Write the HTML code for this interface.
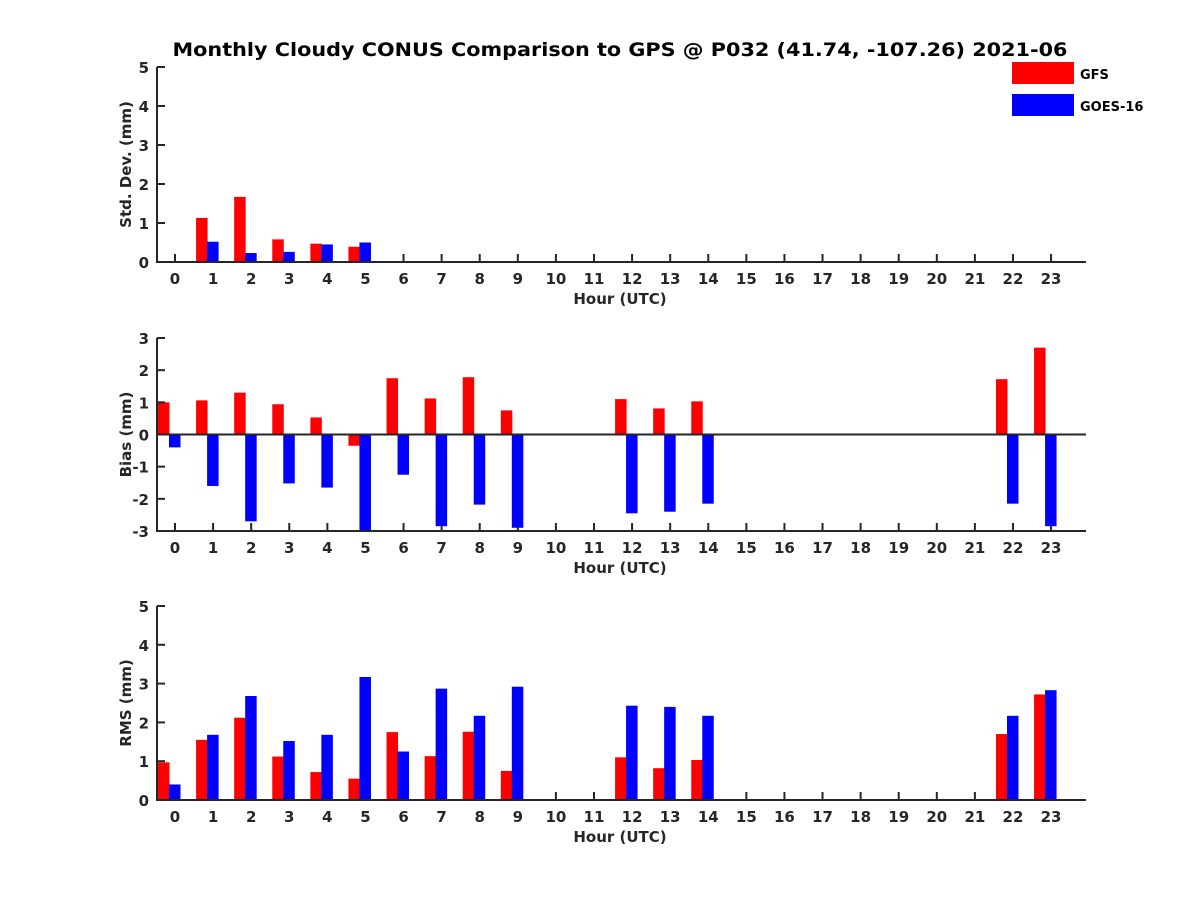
<!DOCTYPE html>
<html><head><meta charset="utf-8">
<style>
body{margin:0;background:#fff;}
svg{display:block;font-family:"DejaVu Sans","Liberation Sans",sans-serif;font-weight:bold;}
</style></head>
<body>
<svg id="chart" width="1200" height="900" viewBox="0 0 1200 900" xmlns="http://www.w3.org/2000/svg">
<rect width="1200" height="900" fill="#fff"/>
<text x="620" y="56" text-anchor="middle" font-size="19" textLength="895" lengthAdjust="spacingAndGlyphs" fill="#000">Monthly Cloudy CONUS Comparison to GPS @ P032 (41.74, -107.26) 2021-06</text>
<g>
<rect x="1012" y="62" width="62" height="22" fill="#ff0000"/>
<text x="1080" y="79" font-size="13" fill="#000">GFS</text>
<rect x="1012" y="94" width="62" height="22" fill="#0000ff"/>
<text x="1080" y="111" font-size="13" fill="#000">GOES-16</text>
</g>
</svg>
<script>
const hours = [0,1,2,3,4,5,6,7,8,9,10,11,12,13,14,15,16,17,18,19,20,21,22,23];
// null = no data
const stdGFS  = [null,1.13,1.67,0.58,0.47,0.39,null,null,null,null,null,null,null,null,null,null,null,null,null,null,null,null,null,null];
const stdGOES = [null,0.52,0.23,0.26,0.45,0.50,null,null,null,null,null,null,null,null,null,null,null,null,null,null,null,null,null,null];
const biasGFS  = [1.0,1.06,1.3,0.94,0.53,-0.35,1.75,1.12,1.78,0.75,null,null,1.1,0.81,1.03,null,null,null,null,null,null,null,1.72,2.7];
const biasGOES = [-0.4,-1.6,-2.7,-1.52,-1.65,-3.0,-1.25,-2.85,-2.18,-2.9,null,null,-2.45,-2.4,-2.15,null,null,null,null,null,null,null,-2.15,-2.85];
const rmsGFS  = [0.97,1.55,2.12,1.12,0.72,0.55,1.75,1.13,1.76,0.75,null,null,1.1,0.82,1.03,null,null,null,null,null,null,null,1.7,2.72];
const rmsGOES = [0.4,1.68,2.68,1.52,1.68,3.17,1.25,2.87,2.17,2.92,null,null,2.43,2.4,2.17,null,null,null,null,null,null,null,2.17,2.83];
const stdTicks = [0,1,2,3,4,5];
const biasTicks = [-3,-2,-1,0,1,2,3];
const rmsTicks = [0,1,2,3,4,5];

const svg = document.getElementById('chart');
const NS = 'http://www.w3.org/2000/svg';
function mk(tag, attrs, parent){
  const e = document.createElementNS(NS, tag);
  for (const k in attrs) e.setAttribute(k, attrs[k]);
  (parent||svg).appendChild(e);
  return e;
}
const X0 = 175, DX = 38.09, LEFT = 157, RIGHT = 1086;
const xScale = h => X0 + DX*h;

function panel(name, top, bottom, ymin, ymax, ticks, ylabel, red, blue){
  const g = mk('g', {});
  
  
  const y = v => bottom - (v - ymin) / (ymax - ymin) * (bottom - top);
  const col = '#262626';
  hours.forEach(h => {
    mk('line', {x1: xScale(h), x2: xScale(h), y1: bottom, y2: bottom - 8, stroke: col, 'stroke-width': 2}, g);
  });
  // bars
  hours.forEach((h, i) => {
    const t = xScale(h);
    [[red[i], '#ff0000', 'gfs', -17], [blue[i], '#0000ff', 'goes16', -6]].forEach(([v, c, s, off]) => {
      if (v === null) return;
      const base = y(Math.max(ymin, Math.min(ymax, 0)));
      const yv = y(Math.max(ymin, Math.min(ymax, v)));
      const r = mk('rect', {x: t + off, y: Math.min(base, yv), width: 11.5, height: Math.abs(base - yv), fill: c}, g);
      
      
    });
  });
  const ax = mk('path', {d: `M${LEFT},${top}V${bottom}H${RIGHT}`, stroke: col, 'stroke-width': 2, fill: 'none'}, g);
  
  
  if (ymin < 0) {
    const zl = mk('line', {x1: LEFT, x2: RIGHT, y1: y(0), y2: y(0), stroke: col, 'stroke-width': 2}, g);
    
    
  }
  ticks.forEach(v => {
    mk('line', {x1: LEFT, x2: LEFT + 8, y1: y(v), y2: y(v), stroke: col, 'stroke-width': 2}, g);
    const tl = mk('text', {x: LEFT - 8, y: y(v) + 6, 'text-anchor': 'end', 'font-size': 15, fill: col}, g);
    tl.textContent = v;
    
    
  });
  hours.forEach(h => {
    const tl = mk('text', {x: xScale(h), y: bottom + 22, 'text-anchor': 'middle', 'font-size': 15, fill: col}, g);
    tl.textContent = h;
    
    
  });
  const xl = mk('text', {x: 620, y: bottom + 42, 'text-anchor': 'middle', 'font-size': 15, fill: col}, g);
  xl.textContent = 'Hour (UTC)';
  
  
  const cy = (top + bottom) / 2;
  const yl = mk('text', {x: 0, y: 0, 'text-anchor': 'middle', 'font-size': 15, fill: col, transform: `translate(131,${cy}) rotate(-90)`}, g);
  yl.textContent = ylabel;
  
  
}
panel('std-dev', 67, 262, 0, 5, stdTicks, 'Std. Dev. (mm)', stdGFS, stdGOES);
panel('bias', 338, 531, -3, 3, biasTicks, 'Bias (mm)', biasGFS, biasGOES);
panel('rms', 606, 800, 0, 5, rmsTicks, 'RMS (mm)', rmsGFS, rmsGOES);
</script>
</body></html>
